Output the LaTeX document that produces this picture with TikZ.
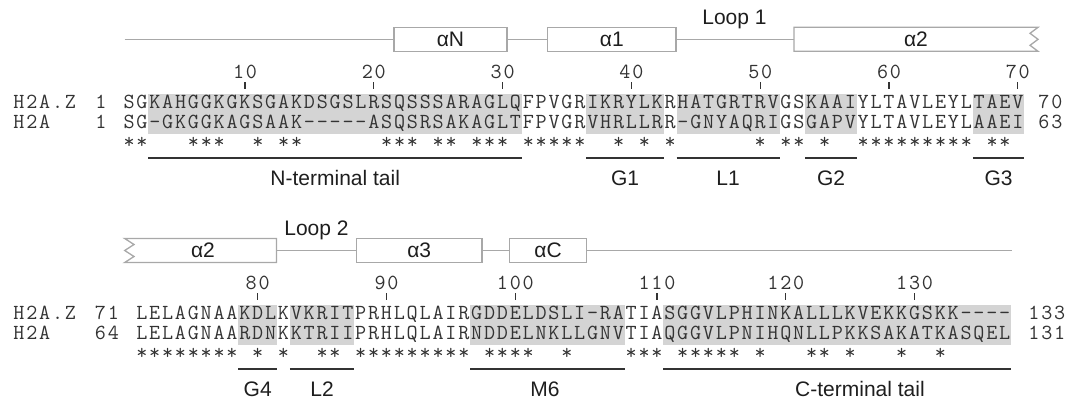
\documentclass[tikz,border=0pt]{standalone}
\usepackage{fontspec}
\setsansfont{Liberation Sans}
\definecolor{seqtext}{HTML}{333333}
\definecolor{shadegray}{HTML}{D4D4D4}
\definecolor{structgray}{HTML}{A8A8A8}
\definecolor{segdark}{HTML}{333333}
\definecolor{labtext}{HTML}{1E1E1E}
\newcount\monocnt
\newcommand\monostr[3]{\def\monox{#1}\def\monoy{#2}\global\monocnt=0 \monoloop#3\relax}
\def\monoloop#1{\ifx\relax#1\else\node[mch] at ({\monox+\the\monocnt*12.88},\monoy) {#1};\global\advance\monocnt by 1 \expandafter\monoloop\fi}
\newcommand\segblock[6]{%
  \fill[shadebox] (#1,93.5+#3) rectangle (#2,134+#3);
  \coordinate (#6a) at (#1,158+#3);
  \coordinate (#6b) at (#2,158+#3);
  \draw[segline] (#6a) -- (#6b);
  \node[lab, anchor=base] (#6) at (#5,185.5+#3) {#4};}
\newcommand\tickmark[4]{%
  \draw[tickline] (#1,82+#2) -- (#1,89+#2);
  \monostr{#4}{78.6+#2}{#3}}
\begin{document}
\begin{tikzpicture}[x=1pt,y=-1pt,
  mch/.style={inner sep=0pt, anchor=base, font=\ttfamily\fontsize{21.5}{21.5}\selectfont, text=seqtext},
  lab/.style={inner sep=0pt, font=\sffamily\fontsize{21}{21}\selectfont, text=labtext},
  helix/.style={draw=structgray, fill=white, line width=1.3pt, minimum height=24pt, inner sep=0pt,
    font=\sffamily\fontsize{21}{21}\selectfont, text=labtext},
  backbone/.style={draw=structgray, line width=1.4pt},
  segline/.style={draw=segdark, line width=1.3pt},
  tickline/.style={draw=seqtext, line width=1.2pt},
  shadebox/.style={fill=shadegray, draw=none}]
\useasboundingbox (0,0) rectangle (1081,402);

% ---------- top block: shading, segment lines, labels
\segblock{148.42}{521.94}{0}{N-terminal tail}{335.2}{nt}
\segblock{586.34}{663.62}{0}{G1}{625}{gone}
\segblock{676.5}{779.54}{0}{L1}{728}{lone}
\segblock{805.3}{856.82}{0}{G2}{831}{gtwo}
\segblock{972.74}{1024.26}{0}{G3}{998.5}{gthree}
% ---------- bottom block
\segblock{238.4}{277.04}{211}{G4}{257.7}{gfour}
\segblock{289.92}{354.32}{211}{L2}{322.1}{ltwo}
\segblock{470.24}{624.8}{211}{M6}{545}{msix}
\segblock{663.44}{1011.2}{211}{C-terminal tail}{860}{ct}

% ---------- top secondary structure
\coordinate (bzero) at (124.7,39.3);
\node[helix, minimum width=113pt] (aN) at (450.5,39.3) {αN};
\node[helix, minimum width=128.4pt] (aone) at (611.8,39.3) {α1};
\coordinate (atwol) at (794,39.3);
\draw[backbone] (bzero) -- (aN.west) (aN.east) -- (aone.west) (aone.east) -- (atwol);
\draw[helix] (794,27.3) -- (1038,27.3) -- (1030,33.3) -- (1038,39.3) -- (1030,45.3) -- (1038,51.3) -- (794,51.3) -- cycle;
\node[lab] (atwotop) at (916,39.3) {α2};
\node[lab, anchor=base] (loopone) at (734.5,24.8) {Loop 1};

% ---------- bottom secondary structure
\draw[helix] (124.7,238.5) -- (276.5,238.5) -- (276.5,262.5) -- (124.7,262.5) -- (134,256.5) -- (124.7,250.5) -- (134,244.5) -- cycle;
\node[lab] (atwobot) at (203,250.5) {α2};
\coordinate (atwor) at (276.5,250.5);
\node[helix, minimum width=125.6pt] (athree) at (419.2,250.5) {α3};
\node[helix, minimum width=77pt] (aC) at (548.1,250.5) {αC};
\coordinate (bend) at (1012,250.5);
\draw[backbone] (atwor) -- (athree.west) (athree.east) -- (aC.west) (aC.east) -- (bend);
\node[lab, anchor=base] (looptwo) at (316.5,235) {Loop 2};

% ---------- ticks
\tickmark{245.02}{0}{10}{238.58}
\tickmark{373.82}{0}{20}{367.38}
\tickmark{502.62}{0}{30}{496.18}
\tickmark{631.42}{0}{40}{624.98}
\tickmark{760.22}{0}{50}{753.78}
\tickmark{889.02}{0}{60}{882.58}
\tickmark{1017.82}{0}{70}{1011.38}
\tickmark{257.72}{211}{80}{251.28}
\tickmark{386.52}{211}{90}{380.08}
\tickmark{515.32}{211}{100}{502.44}
\tickmark{657.0}{211}{110}{644.12}
\tickmark{785.8}{211}{120}{772.92}
\tickmark{914.6}{211}{130}{901.72}

% ---------- top sequences
\monostr{19}{108.1}{H2A.Z}
\monostr{101}{108.1}{1}
\monostr{129.1}{108.1}{SGKAHGGKGKSGAKDSGSLRSQSSSARAGLQFPVGRIKRYLKRHATGRTRVGSKAAIYLTAVLEYLTAEV}
\monostr{1044}{108.1}{70}
\monostr{19}{128.6}{H2A}
\monostr{101}{128.6}{1}
\monostr{129.1}{128.6}{SG-GKGGKAGSAAK-----ASQSRSAKAGLTFPVGRVHRLLRR-GNYAQRIGSGAPVYLTAVLEYLAAEI}
\monostr{1044}{128.6}{63}
\foreach \c in {1,2,6,7,8,11,13,14,21,22,23,25,26,28,29,30,32,33,34,35,36,39,41,43,50,52,53,55,58,59,60,61,62,63,64,65,66,68,69}
  \node[mch] at ({129.1+(\c-1)*12.88},148.6) {*};

% ---------- bottom sequences
\monostr{19}{319.1}{H2A.Z}
\monostr{100.5}{319.1}{71}
\monostr{141.8}{319.1}{LELAGNAAKDLKVKRITPRHLQLAIRGDDELDSLI-RATIASGGVLPHINKALLLKVEKKGSKK----}
\monostr{1034}{319.1}{133}
\monostr{19}{339.6}{H2A}
\monostr{100.5}{339.6}{64}
\monostr{141.8}{339.6}{LELAGNAARDNKKTRIIPRHLQLAIRNDDELNKLLGNVTIAQGGVLPNIHQNLLPKKSAKATKASQEL}
\monostr{1034}{339.6}{131}
\foreach \c in {1,2,3,4,5,6,7,8,10,12,15,16,18,19,20,21,22,23,24,25,26,28,29,30,31,34,39,40,41,43,44,45,46,47,49,53,54,56,60,63}
  \node[mch] at ({141.8+(\c-1)*12.88},359.6) {*};
\end{tikzpicture}
\end{document}
